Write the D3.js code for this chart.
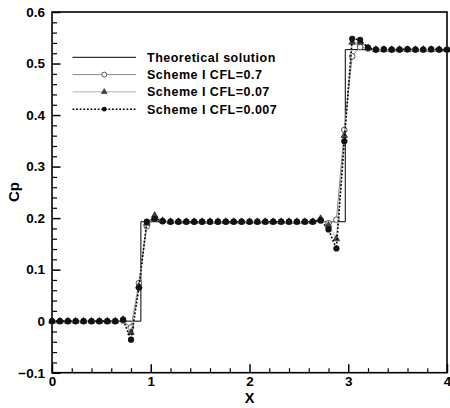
<!DOCTYPE html>
<html>
<head>
<meta charset="utf-8">
<script src="https://cdn.jsdelivr.net/npm/d3@7"></script>
<style>
  html, body { margin: 0; padding: 0; background: #fff; }
  svg { display: block; }
  text { font-family: "Liberation Sans", Arial, sans-serif; font-weight: bold; fill: #000; }
</style>
</head>
<body>
<svg id="chart" width="450" height="408"></svg>
<script>
// Mesh nodes along X
const xNodes = [0, 0.08, 0.16, 0.24, 0.32, 0.40, 0.48, 0.56, 0.64, 0.72,
  0.80, 0.88, 0.96, 1.04, 1.12, 1.20, 1.28, 1.36, 1.44, 1.52,
  1.60, 1.68, 1.76, 1.84, 1.92, 2.00, 2.08, 2.16, 2.24, 2.32,
  2.40, 2.48, 2.56, 2.64, 2.72, 2.80, 2.88, 2.96, 3.04, 3.12,
  3.20, 3.28, 3.36, 3.44, 3.52, 3.60, 3.68, 3.76, 3.84, 3.92, 4.00];

// Exact step solution
const theoryX = [0, 0.9, 0.9, 2.97, 2.97, 4];
const theoryY = [0, 0, 0.193, 0.193, 0.527, 0.527];

// Scheme I, CFL = 0.7
const cpCfl07 = [0, 0, 0, 0, 0, 0, 0, 0, 0, 0.001,
  -0.012, 0.074, 0.184, 0.199, 0.194, 0.193, 0.193, 0.193, 0.193, 0.193,
  0.193, 0.193, 0.193, 0.193, 0.193, 0.193, 0.193, 0.193, 0.193, 0.193,
  0.193, 0.193, 0.193, 0.193, 0.195, 0.190, 0.197, 0.371, 0.514, 0.532,
  0.529, 0.527, 0.527, 0.527, 0.527, 0.527, 0.527, 0.527, 0.527, 0.527, 0.527];

// Scheme I, CFL = 0.07
const cpCfl007 = [0, 0, 0, 0, 0, 0, 0, 0, 0, 0.003,
  -0.022, 0.068, 0.190, 0.205, 0.195, 0.193, 0.193, 0.193, 0.193, 0.193,
  0.193, 0.193, 0.193, 0.193, 0.193, 0.193, 0.193, 0.193, 0.193, 0.193,
  0.193, 0.193, 0.193, 0.193, 0.199, 0.186, 0.160, 0.360, 0.541, 0.541,
  0.530, 0.527, 0.527, 0.527, 0.527, 0.527, 0.527, 0.527, 0.527, 0.527, 0.527];

// Scheme I, CFL = 0.007
const cpCfl0007 = [0, 0, 0, 0, 0, 0, 0, 0, 0, 0.003,
  -0.036, 0.065, 0.193, 0.199, 0.194, 0.193, 0.193, 0.193, 0.193, 0.193,
  0.193, 0.193, 0.193, 0.193, 0.193, 0.193, 0.193, 0.193, 0.193, 0.193,
  0.193, 0.193, 0.193, 0.193, 0.196, 0.178, 0.141, 0.349, 0.548, 0.546,
  0.531, 0.527, 0.528, 0.527, 0.527, 0.528, 0.527, 0.527, 0.528, 0.527, 0.527];

const xTicks = [0, 1, 2, 3, 4];
const yTicks = [-0.1, 0, 0.1, 0.2, 0.3, 0.4, 0.5, 0.6];
const legendLabels = ["Theoretical solution", "Scheme I CFL=0.7", "Scheme I CFL=0.07", "Scheme I CFL=0.007"];

const svg = d3.select("#chart");
const plotL = 52, plotR = 447, plotT = 12, plotB = 372.7;

const x = d3.scaleLinear().domain([0, 4]).range([plotL, plotR]);
const y = d3.scaleLinear().domain([-0.1, 0.6]).range([plotB, plotT]);

// minor ticks
const xMinor = d3.range(0, 4.0001, 0.2).filter(v => Math.abs(v - Math.round(v)) > 1e-6);
const yMinor = d3.range(-0.1, 0.6001, 0.02).filter(v => Math.abs(v * 10 - Math.round(v * 10)) > 1e-6);

svg.append("g").attr("transform", `translate(0,${plotB})`)
  .call(d3.axisBottom(x).tickValues(xMinor).tickSize(-4.5).tickFormat(""))
  .call(g => g.select(".domain").remove())
  .call(g => g.selectAll("line").attr("stroke", "#000").attr("stroke-width", 1.2));
svg.append("g").attr("transform", `translate(${plotL},0)`)
  .call(d3.axisLeft(y).tickValues(yMinor).tickSize(-5).tickFormat(""))
  .call(g => g.select(".domain").remove())
  .call(g => g.selectAll("line").attr("stroke", "#000").attr("stroke-width", 1.2));

svg.append("g").attr("transform", `translate(0,${plotB})`)
  .call(d3.axisBottom(x).tickValues(xTicks).tickSize(-8.5).tickPadding(4).tickFormat(d3.format("d")))
  .call(g => g.select(".domain").remove())
  .call(g => g.selectAll("line").attr("stroke", "#000").attr("stroke-width", 1.5))
  .call(g => g.selectAll("text").attr("font-size", 13.5).attr("font-family", null).attr("fill", "#000"));

svg.append("g").attr("transform", `translate(${plotL},0)`)
  .call(d3.axisLeft(y).tickValues(yTicks).tickSize(-8.5).tickPadding(7)
    .tickFormat(d => d === 0 ? "0" : d3.format(".1f")(d)))
  .call(g => g.select(".domain").remove())
  .call(g => g.selectAll("line").attr("stroke", "#000").attr("stroke-width", 1.5))
  .call(g => g.selectAll("text").attr("font-size", 13.5).attr("font-family", null).attr("fill", "#000"));

// plot frame
svg.append("rect")
  .attr("x", plotL).attr("y", plotT)
  .attr("width", plotR - plotL).attr("height", plotB - plotT)
  .attr("fill", "none").attr("stroke", "#000").attr("stroke-width", 1.6);

// axis titles
svg.append("text").attr("x", (plotL + plotR) / 2).attr("y", 403)
  .attr("text-anchor", "middle").attr("font-size", 14.5).text("X");
svg.append("text")
  .attr("transform", `translate(19,192) rotate(-90)`)
  .attr("text-anchor", "middle").attr("font-size", 15).text("Cp");

const line = d3.line().x(d => x(d[0])).y(d => y(d[1]));
const pts = ys => xNodes.map((v, i) => [v, ys[i]]);

const plot = svg.append("g");

// exact solution
plot.append("path").datum(theoryX.map((v, i) => [v, theoryY[i]]))
  .attr("d", line).attr("fill", "none").attr("stroke", "#000").attr("stroke-width", 1);

// CFL = 0.7 : gray line, open circles
plot.append("path").datum(pts(cpCfl07)).attr("d", line)
  .attr("fill", "none").attr("stroke", "#8a8a8a").attr("stroke-width", 1);
plot.selectAll(".c07").data(pts(cpCfl07)).join("circle")
  .attr("cx", d => x(d[0])).attr("cy", d => y(d[1])).attr("r", 2.8)
  .attr("fill", "#fff").attr("stroke", "#555").attr("stroke-width", 1);

// CFL = 0.07 : light gray line, triangles
const tri = d3.symbol().type(d3.symbolTriangle).size(20);
plot.append("path").datum(pts(cpCfl007)).attr("d", line)
  .attr("fill", "none").attr("stroke", "#b0b0b0").attr("stroke-width", 1);
plot.selectAll(".c007").data(pts(cpCfl007)).join("path")
  .attr("transform", d => `translate(${x(d[0])},${y(d[1])})`)
  .attr("d", tri).attr("fill", "#444").attr("stroke", "#222").attr("stroke-width", 0.6);

// CFL = 0.007 : dotted black line, filled dots
plot.append("path").datum(pts(cpCfl0007)).attr("d", line)
  .attr("fill", "none").attr("stroke", "#000").attr("stroke-width", 1.6)
  .attr("stroke-dasharray", "1.8,1.8");
plot.selectAll(".c0007").data(pts(cpCfl0007)).join("circle")
  .attr("cx", d => x(d[0])).attr("cy", d => y(d[1])).attr("r", 3.1)
  .attr("fill", "#111");

// legend
const lg = svg.append("g");
const rowY = [57.3, 74.6, 91.9, 109.2];
const sx0 = 72.5, sx1 = 136, sxm = (sx0 + sx1) / 2;
const styles = [
  { stroke: "#000", width: 1, dash: null },
  { stroke: "#8a8a8a", width: 1, dash: null },
  { stroke: "#b0b0b0", width: 1, dash: null },
  { stroke: "#000", width: 1.6, dash: "1.8,1.8" }
];
legendLabels.forEach((label, i) => {
  const s = styles[i];
  lg.append("line").attr("x1", sx0).attr("x2", sx1).attr("y1", rowY[i]).attr("y2", rowY[i])
    .attr("stroke", s.stroke).attr("stroke-width", s.width).attr("stroke-dasharray", s.dash);
  lg.append("text").attr("x", 147).attr("y", rowY[i]).attr("dy", "0.36em")
    .attr("font-size", 12.5).attr("letter-spacing", 0.5).text(label);
});
lg.append("circle").attr("cx", sxm).attr("cy", rowY[1]).attr("r", 2.5)
  .attr("fill", "#fff").attr("stroke", "#555").attr("stroke-width", 1);
lg.append("path").attr("transform", `translate(${sxm},${rowY[2]})`)
  .attr("d", d3.symbol().type(d3.symbolTriangle).size(14))
  .attr("fill", "#444").attr("stroke", "#222").attr("stroke-width", 0.6);
lg.append("circle").attr("cx", sxm).attr("cy", rowY[3]).attr("r", 2.4).attr("fill", "#111");
</script>
</body>
</html>
